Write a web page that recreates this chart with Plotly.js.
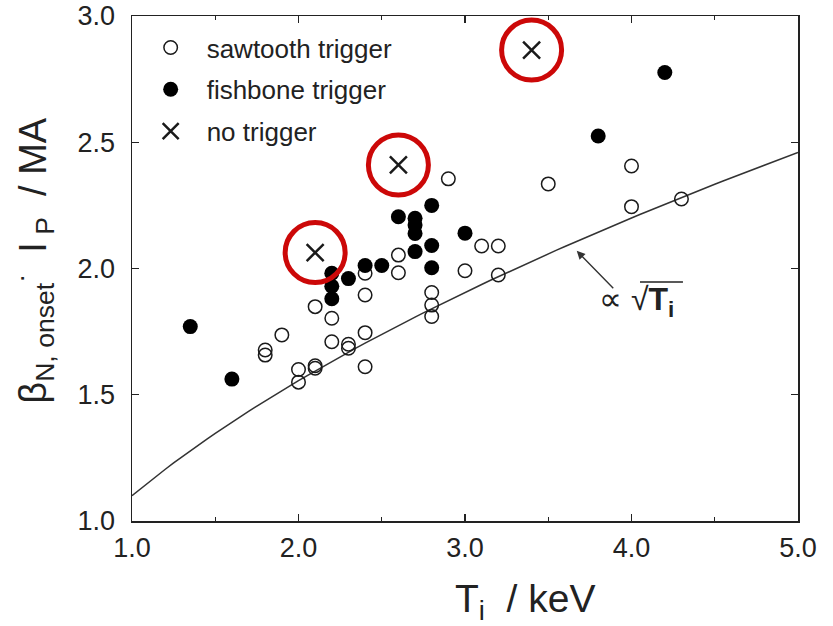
<!DOCTYPE html>
<html>
<head>
<meta charset="utf-8">
<script src="https://cdn.plot.ly/plotly-3.0.1.min.js"></script>
<style>
  html, body { margin: 0; padding: 0; background: #fff; }
  #chart { width: 833px; height: 626px; }
</style>
</head>
<body>
<div id="chart"></div>
<script>
// Ion temperature (keV) and normalised beta x plasma current (MA) at onset
const sawtoothTi = [1.80, 1.80, 1.90, 2.00, 2.00, 2.10, 2.10, 2.10, 2.20, 2.20, 2.30, 2.30,
                    2.40, 2.40, 2.40, 2.40, 2.60, 2.60, 2.80, 2.80, 2.80, 2.90, 3.00, 3.10,
                    3.20, 3.20, 3.50, 4.00, 4.00, 4.30];
const sawtoothBeta = [1.677, 1.657, 1.737, 1.600, 1.550, 1.615, 1.605, 1.849, 1.803, 1.710, 1.700, 1.684,
                      1.746, 1.611, 1.895, 1.981, 2.053, 1.983, 1.905, 1.855, 1.810, 2.355, 1.991, 2.089,
                      2.089, 1.974, 2.335, 2.406, 2.245, 2.275];

const fishboneTi = [1.35, 1.60, 2.20, 2.20, 2.20, 2.30, 2.40, 2.50, 2.60, 2.70, 2.70, 2.70,
                    2.70, 2.80, 2.80, 2.80, 3.00, 3.80, 4.20];
const fishboneBeta = [1.770, 1.562, 1.981, 1.930, 1.880, 1.960, 2.012, 2.012, 2.205, 2.199, 2.172, 2.139,
                      2.067, 2.250, 2.091, 2.003, 2.140, 2.525, 2.776];

const noTriggerTi = [2.10, 2.60, 3.40];
const noTriggerBeta = [2.063, 2.410, 2.865];

// Scaling curve beta*Ip = c * sqrt(Ti)
const fitCoeff = 1.1;
const fitTi = [];
for (let t = 1.0; t <= 5.0001; t += 0.05) fitTi.push(+t.toFixed(2));
const fitBeta = fitTi.map(t => fitCoeff * Math.sqrt(t));

const FONT = 'Liberation Sans, Arial, Helvetica, sans-serif';
const INK = '#1a1a1a';

const traces = [
  {
    x: fitTi, y: fitBeta, type: 'scatter', mode: 'lines',
    line: { color: '#333', width: 1.5 }, showlegend: false, hoverinfo: 'skip'
  },
  {
    x: sawtoothTi, y: sawtoothBeta, type: 'scatter', mode: 'markers',
    name: 'sawtooth trigger', legendgroup: 'a',
    marker: { symbol: 'circle-open', size: 13.5, color: INK, line: { width: 1.5, color: INK } }
  },
  {
    x: fishboneTi, y: fishboneBeta, type: 'scatter', mode: 'markers',
    name: 'fishbone trigger', legendgroup: 'b',
    marker: { symbol: 'circle', size: 15, color: '#000' }
  },
  {
    x: noTriggerTi, y: noTriggerBeta, type: 'scatter', mode: 'markers',
    name: 'no trigger', legendgroup: 'c',
    marker: { symbol: 'x-thin-open', size: 17, color: INK, line: { width: 2.5, color: INK } }
  },
  {
    // highlight rings around the untriggered cases
    x: noTriggerTi, y: noTriggerBeta, type: 'scatter', mode: 'markers',
    showlegend: false, hoverinfo: 'skip',
    marker: { symbol: 'circle-open', size: 60, color: 'rgb(204,8,8)', line: { width: 5, color: 'rgb(204,8,8)' } }
  }
];

const axisCommon = {
  showgrid: false, zeroline: false,
  showline: true, linecolor: '#222', linewidth: 1.5, mirror: 'ticks',
  ticks: 'inside', ticklen: 7, tickwidth: 1.2, tickcolor: '#222',
  tickfont: { family: FONT, size: 27, color: '#222' },
  tickformat: '.1f'
};

const layout = {
  width: 833, height: 626,
  margin: { l: 132, r: 35, t: 16, b: 105 },
  paper_bgcolor: '#fff', plot_bgcolor: '#fff',
  font: { family: FONT, color: '#222' },
  xaxis: Object.assign({}, axisCommon, {
    range: [1, 5], dtick: 1, tick0: 1, ticklabelstandoff: 2,
    minor: { dtick: 0.5, ticks: 'inside', ticklen: 4, tickcolor: '#222' }
  }),
  yaxis: Object.assign({}, axisCommon, {
    range: [1, 3], dtick: 0.5, tick0: 1, ticklabelstandoff: 10
  }),
  showlegend: true,
  legend: {
    x: 0.004, y: 0.984, xanchor: 'left', yanchor: 'top',
    bgcolor: 'rgba(0,0,0,0)', borderwidth: 0,
    font: { family: FONT, size: 26, color: '#222' },
    tracegroupgap: 5, itemwidth: 62
  },
  annotations: [
    {
      xref: 'paper', yref: 'paper', x: 0.59, y: -0.16, xanchor: 'center', yanchor: 'middle',
      text: 'T<sub>i</sub>  / keV', showarrow: false,
      font: { family: FONT, size: 39, color: '#222' }
    },
    {
      xref: 'paper', yref: 'paper', x: -0.149, y: 0.515, xanchor: 'center', yanchor: 'middle',
      textangle: -90,
      text: 'β<sub>N, onset</sub><sup>·</sup>  I<sub> P</sub>  / MA', showarrow: false,
      font: { family: FONT, size: 38, color: '#222' }
    },
    {
      // arrow pointing at the scaling curve
      x: 3.671, y: 2.07, xref: 'x', yref: 'y',
      ax: 38, ay: 39, showarrow: true, arrowhead: 2, arrowsize: 1.2, arrowwidth: 1.4,
      arrowcolor: '#333', text: ''
    },
    {
      x: 4.03, y: 1.87, xref: 'x', yref: 'y', xanchor: 'center', yanchor: 'middle',
      text: '∝ √<b>T<sub>i</sub></b>', showarrow: false,
      font: { family: FONT, size: 32, color: '#222' }
    }
  ],
  shapes: [
    {
      // radical bar over Ti
      type: 'line', xref: 'x', yref: 'y',
      x0: 4.051, x1: 4.309, y0: 1.9465, y1: 1.9465,
      line: { color: '#222', width: 1.5 }
    }
  ]
};

Plotly.newPlot('chart', traces, layout, { displayModeBar: false, staticPlot: true });
</script>
</body>
</html>
